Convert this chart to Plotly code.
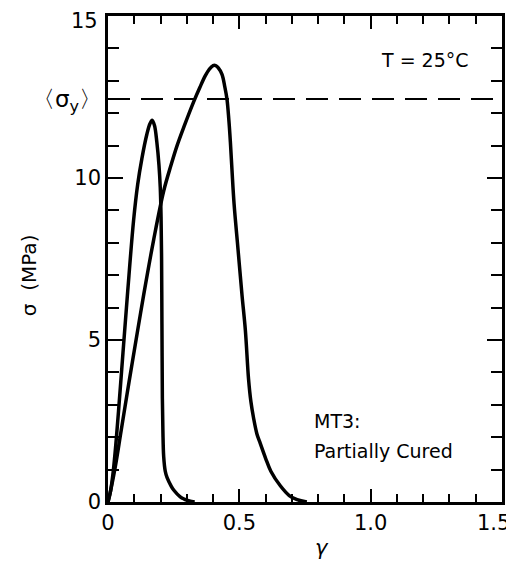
import plotly.graph_objects as go

# Curve 1 (short, steep) : strain gamma vs stress sigma (MPa)
gamma_1 = [0, 0.01, 0.02, 0.03, 0.04, 0.057, 0.075, 0.0975, 0.113, 0.129, 0.148, 0.16, 0.168,
           0.177, 0.186, 0.194, 0.199, 0.202, 0.204, 0.205, 0.206, 0.207, 0.209, 0.212, 0.218,
           0.225, 0.24, 0.25, 0.275, 0.29, 0.31, 0.33]
sigma_1 = [0, 0.35, 0.95, 1.8, 2.8, 4.6, 6.5, 8.7, 9.8, 10.6, 11.35, 11.68, 11.78,
           11.62, 11.1, 10.4, 9.7, 8.8, 7.5, 6.0, 4.5, 3.2, 2.2, 1.4, 0.95,
           0.75, 0.5, 0.37, 0.16, 0.09, 0.03, 0.0]

# Curve 2 (long)
gamma_2 = [0, 0.01, 0.028, 0.05, 0.08, 0.113, 0.136, 0.174, 0.212, 0.24, 0.263, 0.29, 0.326,
           0.35, 0.37, 0.385, 0.40, 0.41, 0.42, 0.434, 0.445, 0.453, 0.46, 0.466, 0.472,
           0.48, 0.495, 0.51, 0.523, 0.535, 0.544, 0.554, 0.567, 0.58, 0.60, 0.62, 0.656,
           0.69, 0.72, 0.757]
sigma_2 = [0, 0.35, 1.1, 2.2, 3.7, 5.3, 6.4, 8.1, 9.6, 10.4, 11.0, 11.6, 12.35,
           12.8, 13.15, 13.35, 13.47, 13.47, 13.4, 13.2, 12.8, 12.43, 11.8, 11.1, 10.25,
           9.2, 7.8, 6.4, 5.3, 3.8, 3.1, 2.6, 2.1, 1.8, 1.35, 0.95, 0.5,
           0.2, 0.07, 0.0]

sigma_y_mean = 12.44
x_range = [0, 1.5]
y_range = [0, 15]
x_tickvals = [0, 0.5, 1.0, 1.5]
x_ticktext = ["0", "0.5", "1.0", "1.5"]
y_tickvals = [0, 5, 10, 15]
y_ticktext = ["0", "5", "10", "15"]

FONT = "DejaVu Sans"

fig = go.Figure()
fig.add_trace(go.Scatter(x=gamma_1, y=sigma_1, mode="lines", line=dict(color="black", width=3.5),
                         line_shape="spline", showlegend=False))
fig.add_trace(go.Scatter(x=gamma_2, y=sigma_2, mode="lines", line=dict(color="black", width=3.5),
                         line_shape="spline", showlegend=False))
fig.add_trace(go.Scatter(x=x_range, y=[sigma_y_mean, sigma_y_mean], mode="lines",
                         line=dict(color="black", width=2, dash="22px,11px"), showlegend=False))

# the edge tick labels (at the plot border) are drawn as annotations so they stay inside the page
fig.update_xaxes(range=x_range, showgrid=False, zeroline=False, showline=True, linecolor="black",
                 linewidth=2.5, mirror="allticks", ticks="inside", ticklen=13, tickwidth=2,
                 tickcolor="black", tickvals=x_tickvals[:-1], ticktext=x_ticktext[:-1],
                 automargin=False, tickfont=dict(family=FONT, size=21, color="black"),
                 minor=dict(dtick=0.1, ticks="inside", ticklen=8, tickwidth=2, tickcolor="black",
                            showgrid=False))
fig.update_yaxes(range=y_range, showgrid=False, zeroline=False, showline=True, linecolor="black",
                 linewidth=2.5, mirror="allticks", ticks="inside", ticklen=15, tickwidth=2,
                 tickcolor="black", tickvals=y_tickvals[:-1], ticktext=y_ticktext[:-1],
                 automargin=False, tickfont=dict(family=FONT, size=21, color="black"),
                 minor=dict(dtick=1, ticks="inside", ticklen=11, tickwidth=2, tickcolor="black",
                            showgrid=False))

fig.add_annotation(x=x_tickvals[-1], xref="x", y=0, yref="paper", text=x_ticktext[-1],
                   showarrow=False, xanchor="right", yanchor="top", xshift=10, yshift=-7,
                   font=dict(family=FONT, size=21, color="black"))
fig.add_annotation(x=0, xref="paper", y=y_tickvals[-1], yref="y", text=y_ticktext[-1],
                   showarrow=False, xanchor="right", yanchor="top", xshift=-8, yshift=9,
                   font=dict(family=FONT, size=21, color="black"))

# axis titles
fig.add_annotation(x=0.543, xref="paper", y=-0.095, yref="paper", text="<i>γ</i>", showarrow=False,
                   xanchor="center", yanchor="middle", font=dict(family=FONT, size=21, color="black"))
fig.add_annotation(x=-0.2, xref="paper", y=0.467, yref="paper", text="σ  (MPa)", showarrow=False,
                   textangle=-90, xanchor="center", yanchor="middle",
                   font=dict(family=FONT, size=20, color="black"))

fig.add_annotation(x=0, xref="paper", y=sigma_y_mean, yref="y", text="〈σ<sub>y</sub>〉",
                   showarrow=False, xanchor="right", yanchor="middle", xshift=-4, yshift=-2,
                   font=dict(family=FONT, size=23, color="black"))
fig.add_annotation(x=1.208, y=13.64, text="T = 25°C", showarrow=False, xanchor="center",
                   font=dict(family=FONT, size=19, color="black"))
fig.add_annotation(x=0.775, y=2.5, text="MT3:", showarrow=False, xanchor="left",
                   font=dict(family=FONT, size=19, color="black"))
fig.add_annotation(x=0.775, y=1.57, text="Partially Cured", showarrow=False, xanchor="left",
                   font=dict(family=FONT, size=19, color="black"))

# page body has an 8px margin, so the figure is sized to 506x553
fig.update_layout(width=506, height=553, margin=dict(l=100, r=12, t=8, b=59),
                  plot_bgcolor="white", paper_bgcolor="white")
fig.write_html("out.html")
